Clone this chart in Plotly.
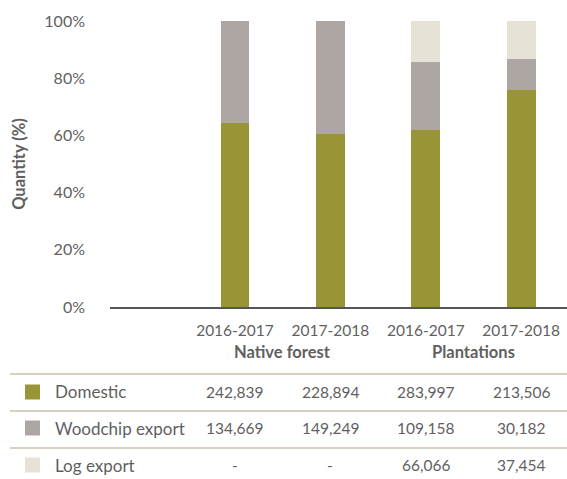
import plotly.graph_objects as go

# Harvest quantities by destination (tonnes)
groups = ["Native forest", "Native forest", "Plantations", "Plantations"]
years = ["2016-2017", "2017-2018", "2016-2017", "2017-2018"]
domestic = [242839, 228894, 283997, 213506]
woodchip_export = [134669, 149249, 109158, 30182]
log_export = [None, None, 66066, 37454]

series_names = ["Domestic", "Woodchip export", "Log export"]
series_values = [domestic, woodchip_export, log_export]
series_colors = ["#989536", "#aea6a2", "#e6e2d6"]

pct_ticks = [0, 20, 40, 60, 80, 100]

categories = [f"{g} {y}" for g, y in zip(groups, years)]

FONT = "Lato"
TEXT = "#5f5f5f"
W, H = 567, 479
L, R, T, B = 110, 0, 21, 172
plot_w = W - L - R
plot_h = H - T - B


def px_x(x):
    return (x - L) / plot_w


def px_y(y):
    return (H - B - y) / plot_h


fig = go.Figure()
for name, vals, col in zip(series_names, series_values, series_colors):
    fig.add_trace(go.Bar(
        x=categories, y=vals, name=name, marker_color=col,
        marker_line_width=0, width=0.3, showlegend=False,
    ))

annotations = []
shapes = []

# Group labels under the year ticks
seen = []
for g in groups:
    if g in seen:
        continue
    seen.append(g)
    idx = [i for i, gg in enumerate(groups) if gg == g]
    annotations.append(dict(
        x=sum(idx) / len(idx), xref="x", y=px_y(352), yref="paper",
        text=f"<b>{g}</b>", showarrow=False,
        font=dict(family=FONT, size=16.5, color=TEXT),
        xanchor="center", yanchor="middle",
    ))

# Data table rows under the chart
row_y = [392, 428, 465]
line_y = [374, 411, 448]
for ly in line_y:
    shapes.append(dict(
        type="line", xref="paper", yref="paper",
        x0=px_x(10), x1=1, y0=px_y(ly), y1=px_y(ly),
        line=dict(color="#c9c1a6", width=1.5),
    ))

for name, vals, col, ry in zip(series_names, series_values, series_colors, row_y):
    shapes.append(dict(
        type="rect", xref="paper", yref="paper",
        x0=px_x(25), x1=px_x(40), y0=px_y(ry + 7.5), y1=px_y(ry - 7.5),
        fillcolor=col, line=dict(width=0),
    ))
    annotations.append(dict(
        x=px_x(53), xref="paper", y=px_y(ry), yref="paper",
        text=name, showarrow=False, xanchor="left", yanchor="middle",
        font=dict(family=FONT, size=17, color=TEXT),
    ))
    for i, v in enumerate(vals):
        annotations.append(dict(
            x=i, xref="x", y=px_y(ry), yref="paper",
            text="-" if v is None else f"{v:,}", showarrow=False,
            xanchor="center", yanchor="middle",
            font=dict(family=FONT, size=15.5, color=TEXT),
        ))

fig.update_layout(
    width=W, height=H,
    margin=dict(l=L, r=R, t=T, b=B),
    paper_bgcolor="white", plot_bgcolor="white",
    barmode="stack", barnorm="percent",
    font=dict(family=FONT, color=TEXT),
    annotations=annotations, shapes=shapes,
    xaxis=dict(
        type="category", range=[-1.31, 3.48],
        tickvals=categories, ticktext=years,
        showline=True, linecolor="#555555", linewidth=2,
        ticks="", ticklabelstandoff=8,
        tickfont=dict(family=FONT, size=15.5, color=TEXT),
        showgrid=False, zeroline=False,
    ),
    yaxis=dict(
        range=[0, 100], tickvals=pct_ticks,
        ticktext=[f"{v}%" for v in pct_ticks],
        showgrid=False, zeroline=False, showline=False,
        ticks="", ticklabelstandoff=24,
        tickfont=dict(family=FONT, size=16, color=TEXT),
        title=dict(text="<b>Quantity (%)</b>", standoff=14,
                   font=dict(family=FONT, size=16.5, color=TEXT)),
    ),
)

fig.write_html("out.html")
